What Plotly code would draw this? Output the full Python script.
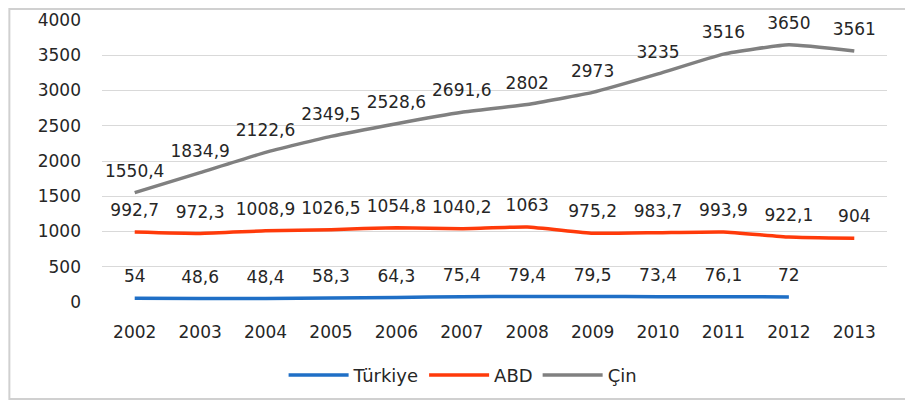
import plotly.graph_objs as go

# data
years = ['2002', '2003', '2004', '2005', '2006', '2007', '2008', '2009', '2010', '2011', '2012', '2013']
turkiye = [54, 48.6, 48.4, 58.3, 64.3, 75.4, 79.4, 79.5, 73.4, 76.1, 72, None]
abd = [992.7, 972.3, 1008.9, 1026.5, 1054.8, 1040.2, 1063, 975.2, 983.7, 993.9, 922.1, 904]
cin = [1550.4, 1834.9, 2122.6, 2349.5, 2528.6, 2691.6, 2802, 2973, 3235, 3516, 3650, 3561]


def labels(vals):
    # Turkish decimal comma
    return ['' if v is None else f'{v:g}'.replace('.', ',') for v in vals]


lbl_font = dict(family='DejaVu Sans', size=17, color='#262626')
# invisible markers just to push the labels up off the line
ghost = dict(size=17, color='rgba(0,0,0,0)')

tr_line = go.Scatter(
    x=years, y=turkiye, name='Türkiye', mode='lines+markers+text', cliponaxis=False,
    text=labels(turkiye), textposition='top center', textfont=lbl_font, marker=ghost,
    line=dict(color='#1F6FC6', width=3.5, shape='spline', smoothing=0.4))

abd_line = go.Scatter(
    x=years, y=abd, name='ABD', mode='lines+markers+text', cliponaxis=False,
    text=labels(abd), textposition='top center', textfont=lbl_font, marker=ghost,
    line=dict(color='#FF3A0A', width=3.5, shape='spline', smoothing=0.4))

cin_line = go.Scatter(
    x=years, y=cin, name='Çin', mode='lines+markers+text', cliponaxis=False,
    text=labels(cin), textposition='top center', textfont=lbl_font, marker=ghost,
    line=dict(color='#808080', width=3.5, shape='spline', smoothing=0.4))

fig = go.Figure([tr_line, abd_line, cin_line])

# page body has an 8px margin, so shrink the figure to land in the same place
fig.update_layout(
    width=905, height=394,
    margin=dict(l=94, r=26, t=12, b=100, autoexpand=False),
    paper_bgcolor='white', plot_bgcolor='white',
    font=dict(family='DejaVu Sans', size=17, color='#262626'),
    showlegend=True,
    legend=dict(orientation='h', x=0.46, xanchor='center', y=-0.26, yanchor='middle',
                font=dict(size=18, color='#262626'), itemwidth=60, traceorder='normal'),
    xaxis=dict(type='category', range=[-0.5, 11.5], showgrid=False, showline=False,
               zeroline=False, ticks='', ticklabelstandoff=18, tickfont=dict(size=17)),
    yaxis=dict(range=[0, 4000], dtick=500, showgrid=True, gridcolor='#D9D9D9', gridwidth=1,
               zeroline=False, showline=False, ticks='', ticklabelstandoff=20,
               tickfont=dict(size=17)),
    shapes=[dict(type='rect', xref='paper', yref='paper',
                 x0=-0.118, x1=1.028, y0=-0.344, y1=1.039,
                 line=dict(color='#D0D0D0', width=2), layer='below')]
)

fig.write_html('out.html')
